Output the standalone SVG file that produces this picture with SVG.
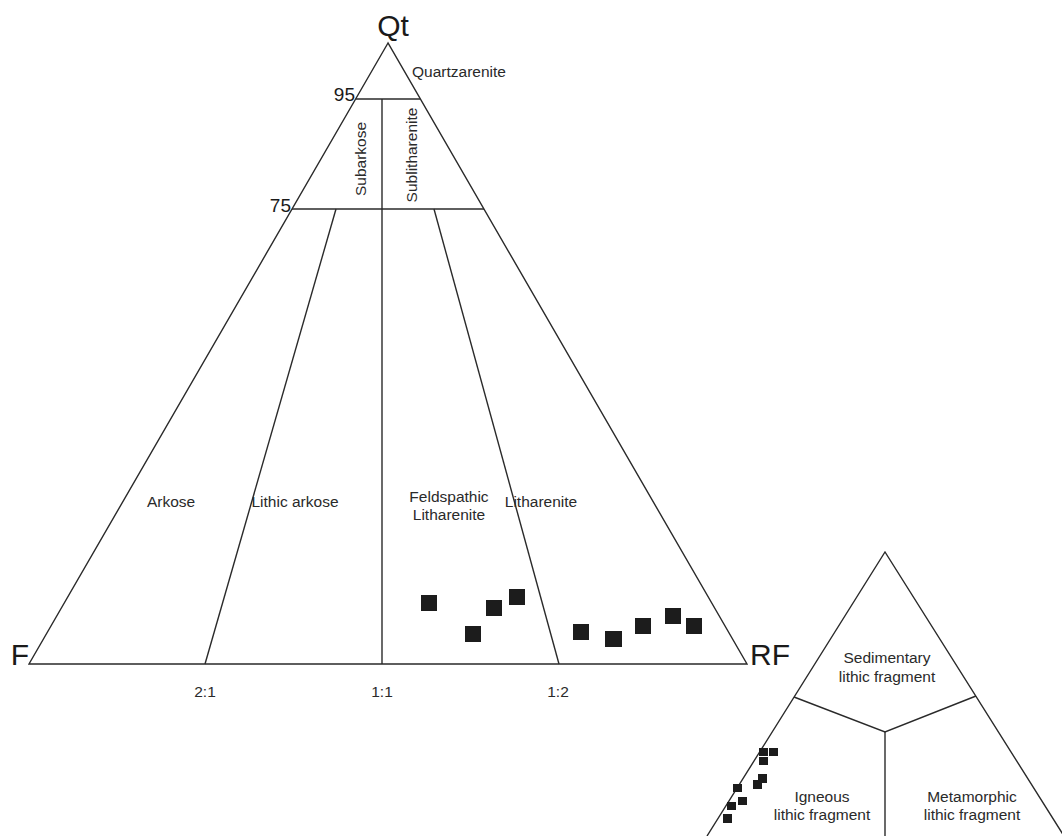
<svg xmlns="http://www.w3.org/2000/svg" width="1062" height="836" viewBox="0 0 1062 836">
<style>
.ln{fill:none;stroke:#2a2a2a;stroke-width:1.4;stroke-linejoin:miter}
.lbl{font-family:"Liberation Sans",Arial,sans-serif;font-size:15.5px;fill:#2a2a2a;text-anchor:middle}
.big{font-family:"Liberation Sans",Arial,sans-serif;font-size:30px;fill:#1a1a1a}
.num{font-family:"Liberation Sans",Arial,sans-serif;font-size:19px;fill:#1a1a1a;text-anchor:end}
.pt{fill:#1c1c1c}
</style>
<rect width="1062" height="836" fill="#ffffff"/>
<g id="connectors">
<polygon class="ln" points="388,43 29,664 747,664"/>
<line class="ln" x1="356" y1="99" x2="420" y2="99"/>
<line class="ln" x1="292" y1="209" x2="484" y2="209"/>
<line class="ln" x1="382" y1="99" x2="382" y2="664"/>
<line class="ln" x1="336" y1="209" x2="205" y2="664"/>
<line class="ln" x1="434" y1="209" x2="559" y2="664"/>
<polyline class="ln" points="707,836 885,552 1064,836"/>
<polyline class="ln" points="794,697 885,732 976,696"/>
<line class="ln" x1="885" y1="732" x2="885" y2="836"/>
</g>
<g id="apex-labels">
<text class="big" x="393" y="36" text-anchor="middle">Qt</text>
<text class="big" x="29" y="665" text-anchor="end">F</text>
<text class="big" x="750" y="665">RF</text>
<text class="num" x="355" y="101">95</text>
<text class="num" x="291" y="212">75</text>
</g>
<g id="quartzarenite"><text class="lbl" x="459" y="77">Quartzarenite</text></g>
<g id="subarkose"><text class="lbl" transform="translate(366,159) rotate(-90)">Subarkose</text></g>
<g id="sublitharenite"><text class="lbl" transform="translate(417,155) rotate(-90)">Sublitharenite</text></g>
<g id="arkose"><text class="lbl" x="171" y="507">Arkose</text></g>
<g id="lithic-arkose"><text class="lbl" x="295" y="507">Lithic arkose</text></g>
<g id="feldspathic-litharenite"><text class="lbl" x="449" y="502">Feldspathic</text><text class="lbl" x="449" y="520">Litharenite</text></g>
<g id="litharenite"><text class="lbl" x="541" y="507">Litharenite</text></g>
<g id="ratios">
<text class="lbl" x="205" y="697">2:1</text>
<text class="lbl" x="382" y="697">1:1</text>
<text class="lbl" x="558" y="697">1:2</text>
</g>
<g id="sedimentary"><text class="lbl" x="887" y="663">Sedimentary</text><text class="lbl" x="887" y="682">lithic fragment</text></g>
<g id="igneous"><text class="lbl" x="822" y="802">Igneous</text><text class="lbl" x="822" y="820">lithic fragment</text></g>
<g id="metamorphic"><text class="lbl" x="972" y="802">Metamorphic</text><text class="lbl" x="972" y="820">lithic fragment</text></g>
<g id="points-main">
<rect class="pt" x="421" y="595" width="16" height="16"/>
<rect class="pt" x="465" y="626" width="16" height="16"/>
<rect class="pt" x="486" y="600" width="16" height="16"/>
<rect class="pt" x="509" y="589" width="16" height="16"/>
<rect class="pt" x="573" y="624" width="16" height="16"/>
<rect class="pt" x="605" y="631" width="17" height="16"/>
<rect class="pt" x="635" y="618" width="16" height="16"/>
<rect class="pt" x="665" y="608" width="16" height="16"/>
<rect class="pt" x="686" y="618" width="16" height="16"/>
</g>
<g id="points-small">
<rect class="pt" x="759" y="748" width="9" height="8"/>
<rect class="pt" x="769" y="748" width="9" height="8"/>
<rect class="pt" x="759" y="757" width="9" height="8"/>
<rect class="pt" x="758" y="774" width="9" height="9"/>
<rect class="pt" x="753" y="780" width="9" height="9"/>
<rect class="pt" x="733" y="784" width="9" height="8"/>
<rect class="pt" x="738" y="797" width="9" height="8"/>
<rect class="pt" x="727" y="802" width="9" height="8"/>
<rect class="pt" x="723" y="814" width="9" height="9"/>
</g>
</svg>
